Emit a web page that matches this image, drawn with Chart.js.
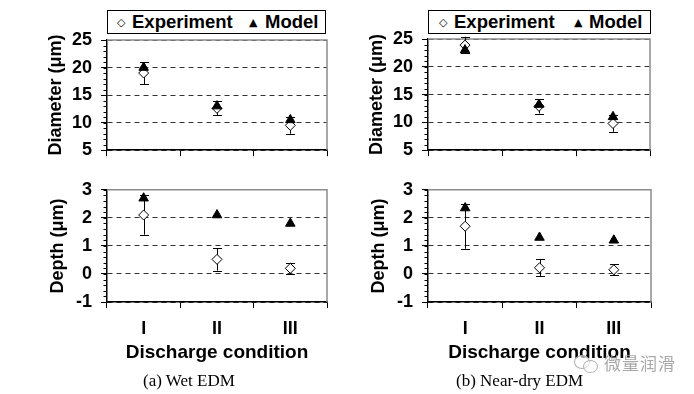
<!DOCTYPE html>
<html><head><meta charset="utf-8">
<script src="https://cdn.jsdelivr.net/npm/chart.js@4.4.1/dist/chart.umd.min.js"></script>
<style>
html,body{margin:0;padding:0;background:#fff;}
body{width:694px;height:394px;position:relative;overflow:hidden;font-family:"Liberation Sans",Arial,sans-serif;}
canvas{position:absolute;}
.legend{position:absolute;border:1px solid #000;background:#fff;box-sizing:border-box;height:24px;font-weight:bold;font-size:18.5px;z-index:2;}
.legend span{position:absolute;top:0;line-height:22px;white-space:nowrap;}
.legend .sym{font-size:11px;font-family:"DejaVu Sans",sans-serif;font-weight:normal;line-height:23px;}
.cap{position:absolute;font-family:"Liberation Serif","Times New Roman",serif;font-size:17px;line-height:20px;white-space:nowrap;color:#000;}
.wm{position:absolute;left:604px;top:352px;font-family:"Noto Sans CJK SC",sans-serif;font-size:17px;line-height:22px;color:#a8a8a8;z-index:3;letter-spacing:1px;}
.b1,.b2{position:absolute;border:1.5px solid #b0b0b0;border-radius:50%;z-index:3;background:rgba(255,255,255,0.6);}
</style></head>
<body>
<canvas id="c1" width="347" height="170" style="left:0;top:0"></canvas>
<canvas id="c2" width="347" height="224" style="left:0;top:170px"></canvas>
<canvas id="c3" width="347" height="170" style="left:347px;top:0"></canvas>
<canvas id="c4" width="347" height="224" style="left:347px;top:170px"></canvas>

<div class="legend" style="left:107px;top:10px;width:219px;">
  <span class="sym" style="left:9px;">&#9671;</span><span style="left:24px;">Experiment</span>
  <span class="sym" style="left:141px;">&#9650;</span><span style="left:157px;">Model</span>
</div>
<div class="legend" style="left:428px;top:10px;width:223px;">
  <span class="sym" style="left:10px;">&#9671;</span><span style="left:25px;">Experiment</span>
  <span class="sym" style="left:145px;">&#9650;</span><span style="left:160px;">Model</span>
</div>

<div class="cap" style="left:143px;top:371px;">(a) Wet EDM</div>
<div class="cap" style="left:456px;top:371px;">(b) Near-dry EDM</div>

<div class="b1" style="left:574px;top:355px;width:14px;height:12px;"></div>
<div class="b2" style="left:583px;top:360px;width:13px;height:11px;"></div>
<div class="wm">微量润滑</div>

<script>
// ---------- data ----------
const categories = ['I', 'II', 'III'];
const legendLabels = ['Experiment', 'Model'];

const wetDiameterExp    = [19.0, 12.6, 9.5];
const wetDiameterExpErr = [2.0, 1.3, 1.5];
const wetDiameterModel  = [20.0, 13.0, 10.5];

const wetDepthExp    = [2.1, 0.52, 0.2];
const wetDepthExpErr = [0.7, 0.4, 0.2];
const wetDepthModel  = [2.7, 2.1, 1.8];

const dryDiameterExp    = [23.9, 12.9, 9.8];
const dryDiameterExpErr = [1.5, 1.3, 1.5];
const dryDiameterModel  = [23.0, 13.2, 11.0];

const dryDepthExp    = [1.7, 0.22, 0.15];
const dryDepthExpErr = [0.8, 0.3, 0.2];
const dryDepthModel  = [2.35, 1.3, 1.2];

const diameterTicks = [5, 25, 5, 1];   // min, max, major step, minor step
const depthTicks    = [-1, 3, 1, 0.2];

// ---------- drawing ----------
const FONT = '"Liberation Sans", Arial, sans-serif';

function makePanel(id, cfg) {
  const [ymin, ymax, ystep, yminor] = cfg.ticks;
  const panelPlugin = {
    id: 'panelExtras' + id,
    beforeDatasetsDraw(chart) {
      const ctx = chart.ctx, a = chart.chartArea, ys = chart.scales.y;
      ctx.save();
      ctx.strokeStyle = '#8c8c8c';
      ctx.lineWidth = 1.5;
      ctx.beginPath();
      ctx.moveTo(a.left, a.top); ctx.lineTo(a.right, a.top); ctx.lineTo(a.right, a.bottom);
      ctx.stroke();
      ctx.strokeStyle = '#000'; ctx.lineWidth = 1;
      const n = Math.round((ymax - ymin) / yminor);
      for (let i = 0; i <= n; i++) {
        const p = Math.round(ys.getPixelForValue(ymin + i * yminor)) + 0.5;
        ctx.beginPath(); ctx.moveTo(a.left - 3.5, p); ctx.lineTo(a.left, p); ctx.stroke();
      }
      const ds = chart.data.datasets[0];
      const meta = chart.getDatasetMeta(0);
      ctx.strokeStyle = '#000'; ctx.lineWidth = 1;
      meta.data.forEach((pt, i) => {
        const v = ds.data[i], e = ds.errors[i];
        const x = Math.round(pt.x) + 0.5;
        const y1 = ys.getPixelForValue(v - e), y2 = ys.getPixelForValue(v + e);
        ctx.beginPath();
        ctx.moveTo(x, y1); ctx.lineTo(x, y2);
        ctx.moveTo(x - 4.5, Math.round(y1) + 0.5); ctx.lineTo(x + 4.5, Math.round(y1) + 0.5);
        ctx.moveTo(x - 4.5, Math.round(y2) + 0.5); ctx.lineTo(x + 4.5, Math.round(y2) + 0.5);
        ctx.stroke();
      });
      ctx.restore();
    }
  };

  return new Chart(document.getElementById(id), {
    type: 'line',
    data: {
      labels: categories,
      datasets: [
        { label: legendLabels[0], data: cfg.exp, errors: cfg.err, showLine: false, order: 1,
          pointStyle: 'rectRot', pointRadius: 5, pointHoverRadius: 5,
          pointBackgroundColor: '#fff', pointBorderColor: '#000', pointBorderWidth: 1 },
        { label: legendLabels[1], data: cfg.model, showLine: false, order: 0,
          pointStyle: 'triangle', pointRadius: 5.5, pointHoverRadius: 5.5,
          pointBackgroundColor: '#000', pointBorderColor: '#000', pointBorderWidth: 1 }
      ]
    },
    options: {
      responsive: false, animation: false, devicePixelRatio: 1,
      layout: { padding: { top: cfg.padTop, right: cfg.padRight, left: 0, bottom: 0 } },
      plugins: { legend: { display: false }, tooltip: { enabled: false } },
      scales: {
        x: {
          type: 'category', offset: true,
          grid: { offset: true, drawOnChartArea: false, drawTicks: true, tickLength: 6,
                  tickColor: '#000', color: '#000', tickWidth: 1 },
          border: { display: true, color: '#000', width: 1.5 },
          ticks: { display: cfg.xLabels, color: '#000', padding: 10,
                   font: { family: FONT, size: 18, weight: 'bold' } },
          title: { display: cfg.xLabels, text: 'Discharge condition', color: '#000',
                   font: { family: FONT, size: 19, weight: 'bold' }, padding: { top: 0, bottom: 30 } },
          afterFit: s => { s.height = cfg.xH; }
        },
        y: {
          min: ymin, max: ymax,
          ticks: { stepSize: ystep, color: '#000', padding: 9,
                   font: { family: FONT, size: 18, weight: 'bold' } },
          grid: { color: '#333', lineWidth: 1, drawTicks: true, tickLength: 6,
                  tickColor: '#000', tickWidth: 1, tickBorderDash: [0, 0] },
          border: { display: true, color: '#000', width: 1.5, dash: [5, 4] },
          title: { display: true, text: cfg.yTitle, color: '#000',
                   font: { family: FONT, size: 18, weight: 'bold' }, padding: { top: cfg.titlePad, bottom: 0 } },
          afterFit: s => { s.width = cfg.yW; }
        }
      }
    },
    plugins: [panelPlugin]
  });
}

makePanel('c1', { ticks: diameterTicks, exp: wetDiameterExp, err: wetDiameterExpErr, model: wetDiameterModel,
  yTitle: 'Diameter (μm)', padTop: 40, padRight: 20, yW: 107, xH: 12, xLabels: false, titlePad: 45 });
makePanel('c2', { ticks: depthTicks, exp: wetDepthExp, err: wetDepthExpErr, model: wetDepthModel,
  yTitle: 'Depth (μm)', padTop: 13, padRight: 20, yW: 107, xH: 92, xLabels: true, titlePad: 47 });
makePanel('c3', { ticks: diameterTicks, exp: dryDiameterExp, err: dryDiameterExpErr, model: dryDiameterModel,
  yTitle: 'Diameter (μm)', padTop: 39, padRight: 44, yW: 81, xH: 15, xLabels: false, titlePad: 19 });
makePanel('c4', { ticks: depthTicks, exp: dryDepthExp, err: dryDepthExpErr, model: dryDepthModel,
  yTitle: 'Depth (μm)', padTop: 15, padRight: 43, yW: 81, xH: 92, xLabels: true, titlePad: 21 });
</script>
</body></html>
